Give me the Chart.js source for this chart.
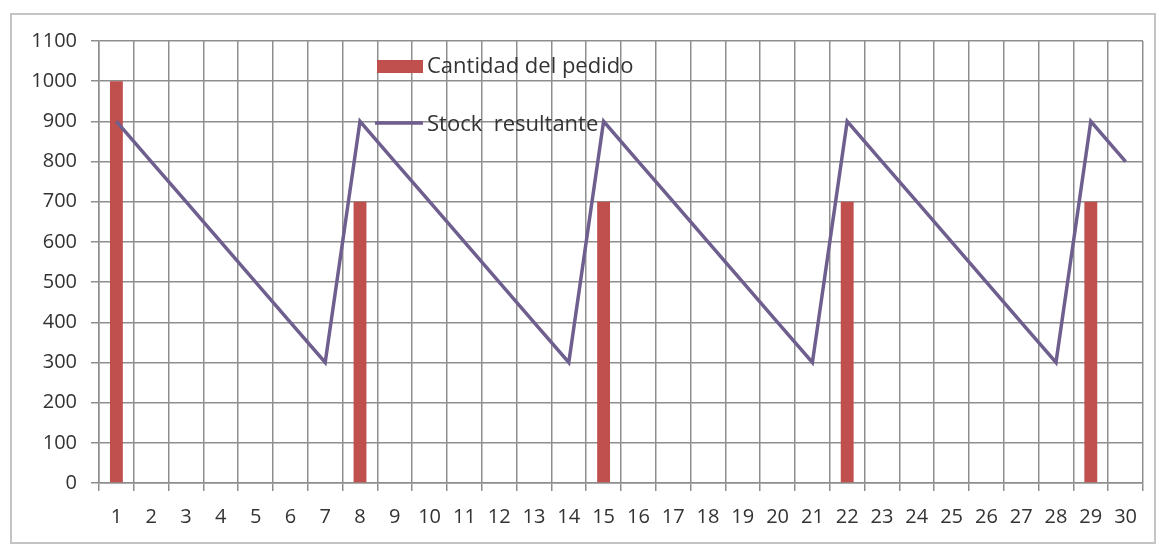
<!DOCTYPE html>
<html>
<head>
<meta charset="utf-8">
<script src="https://cdn.jsdelivr.net/npm/chart.js@4"></script>
<style>
  html, body { margin: 0; padding: 0; background: #ffffff; }
  #wrap { width: 1161px; height: 546px; position: relative; }
</style>
</head>
<body>
<div id="wrap"><canvas id="c" width="1161" height="546"></canvas></div>
<script>
const days = ['1','2','3','4','5','6','7','8','9','10','11','12','13','14','15','16','17','18','19','20','21','22','23','24','25','26','27','28','29','30'];
const orderQty = [1000,null,null,null,null,null,null,700,null,null,null,null,null,null,700,null,null,null,null,null,null,700,null,null,null,null,null,null,700,null];
const stock = [900,800,700,600,500,400,300,900,800,700,600,500,400,300,900,800,700,600,500,400,300,900,800,700,600,500,400,300,900,800];
const seriesNames = ['Cantidad del pedido', 'Stock  resultante'];

const gridColor = '#8e8e8e';
const textColor = '#333333';
const tickFont = { family: 'Open Sans', size: 20 };

const framePlugin = {
  id: 'frame',
  beforeDraw(chart) {
    const ctx = chart.ctx;
    ctx.save();
    ctx.fillStyle = '#ffffff';
    ctx.fillRect(0, 0, chart.width, chart.height);
    ctx.strokeStyle = '#c4c4c4';
    ctx.lineWidth = 2;
    ctx.strokeRect(11, 14, chart.width - 17, chart.height - 17);
    ctx.restore();
  }
};

const legendPlugin = {
  id: 'innerLegend',
  afterDatasetsDraw(chart) {
    const ctx = chart.ctx;
    const a = chart.chartArea;
    const x0 = a.left + 278;
    const ds = chart.data.datasets;
    ctx.save();
    ctx.font = '22px "Open Sans"';
    ctx.textBaseline = 'middle';
    // bar item
    ctx.fillStyle = ds[0].backgroundColor;
    ctx.fillRect(x0, a.top + 19, 46, 13);
    ctx.fillStyle = textColor;
    ctx.fillText(ds[0].label, x0 + 50, a.top + 26);
    // line item
    ctx.strokeStyle = ds[1].borderColor;
    ctx.lineWidth = 3.5;
    ctx.beginPath();
    ctx.moveTo(x0 - 2, a.top + 82);
    ctx.lineTo(x0 + 46, a.top + 82);
    ctx.stroke();
    ctx.fillText(ds[1].label, x0 + 50, a.top + 84);
    ctx.restore();
  }
};

new Chart(document.getElementById('c'), {
  type: 'bar',
  data: {
    labels: days,
    datasets: [
      {
        type: 'bar',
        label: seriesNames[0],
        data: orderQty,
        backgroundColor: '#c0504d',
        barPercentage: 0.37,
        categoryPercentage: 1.0,
        order: 2
      },
      {
        type: 'line',
        label: seriesNames[1],
        data: stock,
        borderColor: '#6e5f8e',
        backgroundColor: '#6e5f8e',
        borderWidth: 3.5,
        pointRadius: 0,
        tension: 0,
        fill: false,
        order: 1
      }
    ]
  },
  options: {
    responsive: false,
    animation: false,
    layout: { padding: { left: 0, top: 41, right: 18, bottom: 0 } },
    plugins: {
      legend: { display: false },
      tooltip: { enabled: false }
    },
    scales: {
      x: {
        offset: true,
        grid: { color: gridColor, lineWidth: 1.5, offset: true, tickLength: 8, drawTicks: true },
        border: { color: gridColor, width: 1.5 },
        ticks: { color: textColor, font: tickFont, padding: 14, maxRotation: 0, autoSkip: false },
        afterFit(s) { s.height = 63; }
      },
      y: {
        min: 0,
        max: 1100,
        grid: { color: gridColor, lineWidth: 1.5, tickLength: 8 },
        border: { color: gridColor, width: 1.5 },
        ticks: { stepSize: 100, color: textColor, font: tickFont, padding: 14, callback: (v) => String(v) },
        afterFit(s) { s.width = 99; }
      }
    }
  },
  plugins: [framePlugin, legendPlugin]
});
</script>
</body>
</html>
